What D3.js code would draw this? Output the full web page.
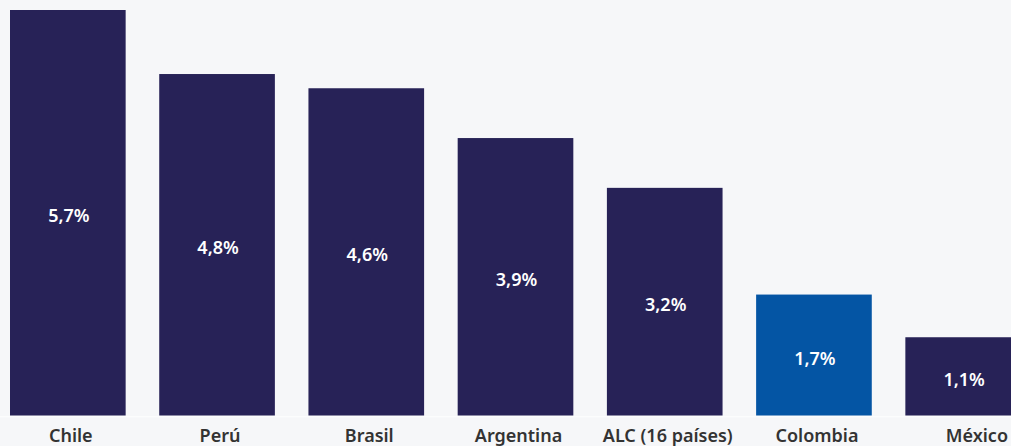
<!DOCTYPE html>
<html>
<head>
<meta charset="utf-8">
<script src="https://cdn.jsdelivr.net/npm/d3@7/dist/d3.min.js"></script>
<style>
  html, body { margin: 0; padding: 0; background: #f6f7f9; }
  svg { display: block; }
</style>
</head>
<body>
<svg id="chart" width="1011" height="446"></svg>
<script>
// Growth by country (%)
const countries = ["Chile", "Perú", "Brasil", "Argentina", "ALC (16 países)", "Colombia", "México"];
const values = [5.7, 4.8, 4.6, 3.9, 3.2, 1.7, 1.1];
const highlight = ["Colombia"];

const W = 1011, H = 446;
const baseY = 415.5;
const svg = d3.select("#chart");

svg.append("rect").attr("width", W).attr("height", H).attr("fill", "#f6f7f9");

const x = d3.scaleBand()
  .domain(countries)
  .range([10, 1021])
  .paddingInner(0.225)
  .paddingOuter(0);

const y = d3.scaleLinear().domain([0, 5.7]).range([baseY, 10]);

const fmt = v => d3.format(".1f")(v).replace(".", ",") + "%";

const data = countries.map((c, i) => ({ c, v: values[i] }));

svg.append("g").selectAll("rect").data(data).join("rect")
  .attr("x", d => x(d.c))
  .attr("y", d => y(d.v))
  .attr("width", x.bandwidth())
  .attr("height", d => baseY - y(d.v))
  .attr("fill", d => highlight.includes(d.c) ? "#0455a4" : "#272257");

svg.append("line")
  .attr("x1", 0).attr("x2", W)
  .attr("y1", 416.8).attr("y2", 416.8)
  .attr("stroke", "#ffffff").attr("stroke-width", 1);

svg.append("g").selectAll("text").data(data).join("text")
  .attr("x", d => x(d.c) + x.bandwidth() / 2 + 1)
  .attr("y", d => (y(d.v) + baseY) / 2 + 9.5)
  .attr("text-anchor", "middle")
  .attr("font-family", "'Noto Sans', sans-serif")
  .attr("font-weight", 600)
  .attr("font-size", 18)
  .attr("fill", "#ffffff")
  .text(d => fmt(d.v));

// Category labels; a label whose band runs past the right edge is pinned to it
const labels = svg.append("g").selectAll("text").data(data).join("text")
  .attr("y", 441.5)
  .attr("text-anchor", "middle")
  .attr("font-family", "'Noto Sans', sans-serif")
  .attr("font-weight", 600)
  .attr("font-size", 18)
  .attr("fill", "#333333")
  .text(d => d.c);

labels.each(function(d) {
  const w = this.getComputedTextLength();
  const bandEnd = x(d.c) + x.bandwidth();
  const cx = bandEnd > W ? W - 3 - w / 2 : x(d.c) + x.bandwidth() / 2 + 3;
  d3.select(this).attr("x", cx);
});
</script>
</body>
</html>
